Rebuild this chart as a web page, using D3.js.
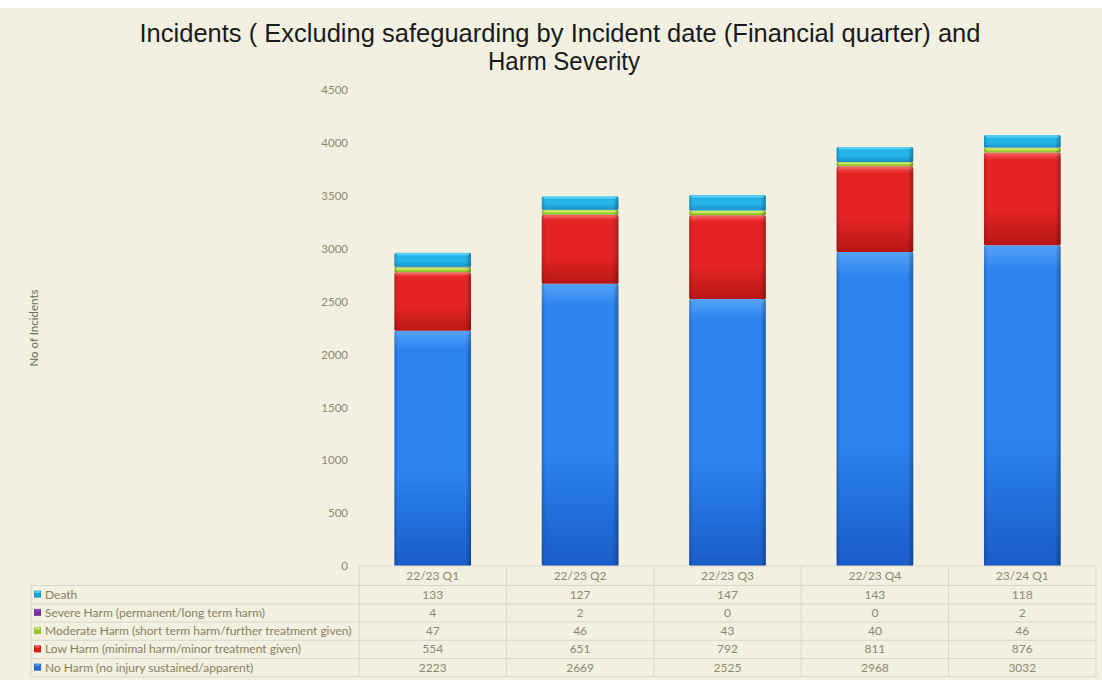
<!DOCTYPE html>
<html>
<head>
<meta charset="utf-8">
<script src="https://cdn.jsdelivr.net/npm/d3@7/dist/d3.min.js"></script>
<style>
  html, body { margin: 0; padding: 0; background: #ffffff; }
  svg { display: block; }
</style>
</head>
<body>
<svg id="chart" width="1102" height="680"></svg>
<script>
// Quarterly incident counts by harm severity
const quarters = ["22/23 Q1", "22/23 Q2", "22/23 Q3", "22/23 Q4", "23/24 Q1"];
const noHarm   = [2223, 2669, 2525, 2968, 3032];
const lowHarm  = [554, 651, 792, 811, 876];
const moderate = [47, 46, 43, 40, 46];
const severe   = [4, 2, 0, 0, 2];
const death    = [133, 127, 147, 143, 118];
const yTicks   = [0, 500, 1000, 1500, 2000, 2500, 3000, 3500, 4000, 4500];

// Stack order bottom -> top
const series = [
  { key: "noHarm",   label: "No Harm (no injury sustained/apparent)",                 values: noHarm,   light: "#55a2f8", mid: "#2c84f0", dark: "#1a5cc9", swatch: "#2466d8" },
  { key: "lowHarm",  label: "Low Harm (minimal harm/minor treatment given)",           values: lowHarm,  light: "#f46060", mid: "#e52525", dark: "#b81616", swatch: "#d21d1d" },
  { key: "moderate", label: "Moderate Harm (short term harm/further treatment given)", values: moderate, light: "#d4f27a", mid: "#a6d63c", dark: "#84b524", swatch: "#95c62f" },
  { key: "severe",   label: "Severe Harm (permanent/long term harm)",                  values: severe,   light: "#9a5ad0", mid: "#7a34b4", dark: "#5a2090", swatch: "#7030a0" },
  { key: "death",    label: "Death",                                                   values: death,    light: "#62d4f8", mid: "#24b4e8", dark: "#1690c6", swatch: "#1ba3d8" }
];

const W = 1102, H = 680;
const svg = d3.select("#chart");
const bg = "#f1f0e1";

svg.append("rect").attr("width", W).attr("height", H).attr("fill", "#ffffff");
svg.append("rect").attr("x", 0).attr("y", 8).attr("width", W).attr("height", H - 8).attr("fill", bg);

// Gradients: vertical shading per series plus a shared edge shadow
const defs = svg.append("defs");
series.forEach(s => {
  const g = defs.append("linearGradient").attr("id", "v-" + s.key)
    .attr("x1", 0).attr("y1", 0).attr("x2", 0).attr("y2", 1);
  g.append("stop").attr("offset", "0%").attr("stop-color", s.light);
  g.append("stop").attr("offset", "8%").attr("stop-color", s.mid);
  g.append("stop").attr("offset", "60%").attr("stop-color", s.mid);
  g.append("stop").attr("offset", "100%").attr("stop-color", s.dark);
});
const edge = defs.append("linearGradient").attr("id", "edge")
  .attr("x1", 0).attr("y1", 0).attr("x2", 1).attr("y2", 0);
edge.append("stop").attr("offset", "0%").attr("stop-color", "#000").attr("stop-opacity", 0.18);
edge.append("stop").attr("offset", "5%").attr("stop-color", "#000").attr("stop-opacity", 0);
edge.append("stop").attr("offset", "93%").attr("stop-color", "#000").attr("stop-opacity", 0);
edge.append("stop").attr("offset", "100%").attr("stop-color", "#000").attr("stop-opacity", 0.3);

// Scales
const x = d3.scaleBand().domain(quarters).range([359, 1096]).paddingInner(0.48).paddingOuter(0.24);
const y = d3.scaleLinear().domain([0, 4500]).range([566, 90]);

// Title
const title = svg.append("text")
  .attr("text-anchor", "middle")
  .attr("font-family", "'Liberation Sans Narrow', 'Arial Narrow', 'Liberation Sans', Arial, sans-serif")
  .attr("font-size", 26).attr("fill", "#1a1a1a");
title.append("tspan").attr("x", 560).attr("y", 42)
  .attr("textLength", 841).attr("lengthAdjust", "spacingAndGlyphs")
  .text("Incidents ( Excluding safeguarding by Incident date (Financial quarter) and");
title.append("tspan").attr("x", 564).attr("y", 70)
  .attr("textLength", 152).attr("lengthAdjust", "spacingAndGlyphs")
  .text("Harm Severity");

// Y axis (labels only)
const yAxis = d3.axisLeft(y).tickValues(yTicks).tickFormat(d3.format("d")).tickSize(0).tickPadding(11);
const yG = svg.append("g").attr("transform", "translate(359,0)").call(yAxis);
yG.select(".domain").remove();
yG.selectAll("text")
  .attr("font-family", "Lato, 'Open Sans', sans-serif")
  .attr("font-size", 11.5).attr("fill", "#8d8a70");

// Y axis title
svg.append("text")
  .attr("transform", "translate(38,328) rotate(-90)")
  .attr("text-anchor", "middle")
  .attr("font-family", "Lato, 'Open Sans', sans-serif")
  .attr("font-size", 11.5).attr("fill", "#6f6c58")
  .text("No of Incidents");

// Stacked bars
const rows = quarters.map((q, i) => {
  const r = { quarter: q };
  series.forEach(s => r[s.key] = s.values[i]);
  return r;
});
const stack = d3.stack().keys(series.map(s => s.key))(rows);

const barsG = svg.append("g");
stack.forEach((layer, li) => {
  const s = series[li];
  const g = barsG.append("g");
  layer.forEach(d => {
    const x0 = x(d.data.quarter);
    const y0 = y(d[1]);
    const h = y(d[0]) - y(d[1]);
    if (h <= 0) return;
    g.append("rect").attr("x", x0).attr("y", y0).attr("width", x.bandwidth()).attr("height", h)
      .attr("rx", 1.5).attr("fill", `url(#v-${s.key})`);
    g.append("rect").attr("x", x0).attr("y", y0).attr("width", x.bandwidth()).attr("height", h)
      .attr("rx", 1.5).attr("fill", "url(#edge)");
    if (h > 3) {
      g.append("rect").attr("x", x0 + 2).attr("y", y0 + 0.5).attr("width", x.bandwidth() - 4)
        .attr("height", Math.min(2, h / 3)).attr("fill", s.light).attr("opacity", 0.8);
    }
  });
});

// Data table beneath the plot
const tableTop = 566, headH = 19.5, rowH = 18.25;
const tableLeft = 31, plotLeft = 359, tableRight = 1096;
const tableRows = series.slice().reverse(); // Death first
const tableBottom = tableTop + headH + rowH * tableRows.length;
const gridColor = "#d9d8c8";
const tG = svg.append("g");
const tableFont = "Lato, 'Open Sans', sans-serif";
const txtColor = "#8d8a70";

tG.append("line").attr("x1", plotLeft).attr("x2", tableRight).attr("y1", tableTop).attr("y2", tableTop)
  .attr("stroke", gridColor);
for (let i = 0; i <= tableRows.length; i++) {
  const yy = tableTop + headH + rowH * i;
  tG.append("line").attr("x1", tableLeft).attr("x2", tableRight).attr("y1", yy).attr("y2", yy)
    .attr("stroke", gridColor);
}
tG.append("line").attr("x1", tableLeft).attr("x2", tableLeft).attr("y1", tableTop + headH).attr("y2", tableBottom)
  .attr("stroke", gridColor);
const colStep = (tableRight - plotLeft) / quarters.length;
for (let i = 0; i <= quarters.length; i++) {
  const xx = plotLeft + colStep * i;
  tG.append("line").attr("x1", xx).attr("x2", xx).attr("y1", tableTop).attr("y2", tableBottom)
    .attr("stroke", gridColor);
}
quarters.forEach(q => {
  tG.append("text").attr("x", x(q) + x.bandwidth() / 2).attr("y", tableTop + headH / 2 + 4)
    .attr("text-anchor", "middle").attr("font-family", tableFont).attr("font-size", 12)
    .attr("fill", txtColor).text(q);
});
tableRows.forEach((s, ri) => {
  const cy = tableTop + headH + rowH * ri + rowH / 2;
  tG.append("rect").attr("x", 34).attr("y", cy - 4).attr("width", 7).attr("height", 7)
    .attr("fill", s.swatch);
  tG.append("rect").attr("x", 35).attr("y", cy - 3.5).attr("width", 5).attr("height", 2)
    .attr("fill", s.light).attr("opacity", 0.8);
  tG.append("text").attr("x", 45).attr("y", cy + 4)
    .attr("font-family", tableFont).attr("font-size", 12).attr("fill", "#8a8060").text(s.label);
  quarters.forEach((q, qi) => {
    tG.append("text").attr("x", x(q) + x.bandwidth() / 2).attr("y", cy + 4)
      .attr("text-anchor", "middle").attr("font-family", tableFont).attr("font-size", 12)
      .attr("fill", txtColor).text(s.values[qi]);
  });
});
</script>
</body>
</html>
